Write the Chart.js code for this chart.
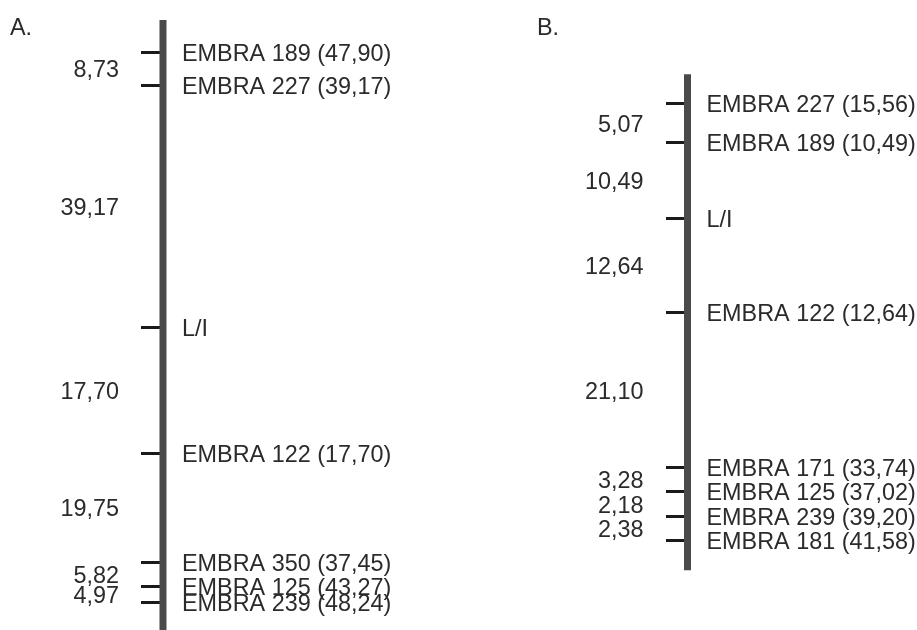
<!DOCTYPE html>
<html>
<head>
<meta charset="utf-8">
<script src="https://cdn.jsdelivr.net/npm/chart.js@4"></script>
<style>
  html, body { margin: 0; padding: 0; background: #fff; }
  #wrap { position: relative; width: 917px; height: 630px; overflow: hidden; }
  canvas { position: absolute; top: 0; }
  #map-a { left: 0; }
  #map-b { left: 458px; }
</style>
</head>
<body>
<div id="wrap">
  <canvas id="map-a" width="458" height="630"></canvas>
  <canvas id="map-b" width="459" height="630"></canvas>
</div>
<script>
// Map A
const aMarkers = ['EMBRA 189', 'EMBRA 227', 'L/I', 'EMBRA 122', 'EMBRA 350', 'EMBRA 125', 'EMBRA 239'];
const aScores = ['47,90', '39,17', '', '17,70', '37,45', '43,27', '48,24'];
const aPos = [0, 5.8, 48.1, 70.1, 89.2, 93.4, 96.2];   // position along the drawn map
const aDist = ['8,73', '39,17', '17,70', '19,75', '5,82', '4,97'];
const aEnds = [-5.6, 102];

// Map B
const bMarkers = ['EMBRA 227', 'EMBRA 189', 'L/I', 'EMBRA 122', 'EMBRA 171', 'EMBRA 125', 'EMBRA 239', 'EMBRA 181'];
const bScores = ['15,56', '10,49', '', '12,64', '33,74', '37,02', '39,20', '41,58'];
const bPos = [0, 5.0, 15.0, 27.3, 47.6, 50.7, 54.0, 57.1];
const bDist = ['5,07', '10,49', '12,64', '21,10', '3,28', '2,18', '2,38'];
const bEnds = [-3.9, 61.0];

const FONT = '23.4px "Liberation Sans", Arial, sans-serif';
const TEXT = '#2b2b2b';

// tick mark image: left half filled so it sits to the left of the bar
function tickImage() {
  let c = document.createElement('canvas');
  c.width = 44;
  c.height = 3;
  let g = c.getContext('2d');
  g.fillStyle = '#1a1a1a';
  g.fillRect(0, 0, 19, 3);
  return c;
}

//labels for markers and intervals
const mapLabels = {
  id: 'mapLabels',
  afterDatasetsDraw(chart, args, opts) {
    const ctx = chart.ctx;
    const xs = chart.scales.x, ys = chart.scales.y;
    const barX = xs.getPixelForValue(0);
    ctx.save();
    ctx.font = FONT;
    ctx.fillStyle = TEXT;
    ctx.textBaseline = 'middle';

    ctx.textAlign = 'left';
    opts.names.forEach((n, i) => {
      let s = opts.scores[i] ? n + ' (' + opts.scores[i] + ')' : n;
      ctx.fillText(s, barX + 19, ys.getPixelForValue(opts.pos[i]) + 2);
    });

    ctx.textAlign = 'right';
    opts.dist.forEach((d, i) => {
      let mid = (opts.pos[i] + opts.pos[i + 1]) / 2;
      ctx.fillText(d, barX - 44, ys.getPixelForValue(mid) + 2);
    });

    ctx.textAlign = 'left';
    ctx.textBaseline = 'top';
    ctx.fillText(opts.panel, opts.panelX, 17);
    ctx.restore();
  }
};

function makeMap(canvas, pos, ends, names, scores, dist, panel, panelX, xRange, yRange) {
  return new Chart(canvas, {
    type: 'scatter',
    data: {
      datasets: [{
        type: 'line',
        data: ends.map(y => ({x: 0, y: y})),
        borderColor: '#4a4a4a',
        borderWidth: 7,
        borderCapStyle: 'butt',
        pointRadius: 0
      }, {
        data: pos.map(y => ({x: 0, y: y})),
        pointStyle: tickImage(),
        pointRadius: 10
      }]
    },
    options: {
      responsive: false,
      animation: false,
      devicePixelRatio: 1,
      layout: { padding: 0, autoPadding: false },
      scales: {
        x: { type: 'linear', display: false, min: xRange[0], max: xRange[1] },
        y: { type: 'linear', display: false, reverse: true, min: yRange[0], max: yRange[1] }
      },
      plugins: {
        legend: { display: false },
        tooltip: { enabled: false },
        mapLabels: { names: names, scores: scores, pos: pos, dist: dist, panel: panel, panelX: panelX }
      }
    },
    plugins: [mapLabels]
  });
}

let mapA = makeMap(document.getElementById('map-a'), aPos, aEnds, aMarkers, aScores, aDist, 'A.', 10, [-1, 1.81], [-9.1, 101.0]);
let mapB = makeMap(document.getElementById('map-b'), bPos, bEnds, bMarkers, bScores, bDist, 'B.', 79, [-1, 1.0], [-13.6, 68.8]);
</script>
</body>
</html>
